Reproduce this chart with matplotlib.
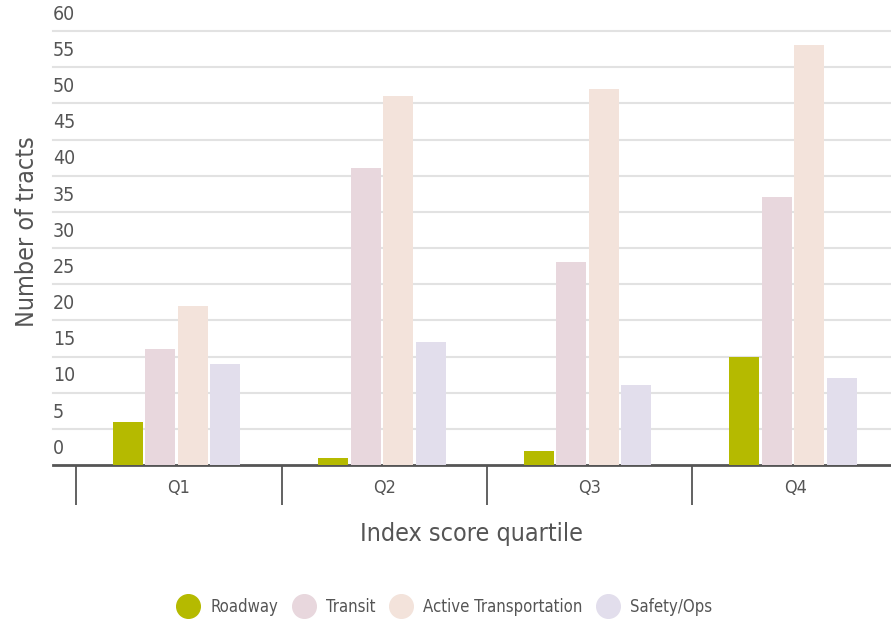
import matplotlib.pyplot as plt
from matplotlib.lines import Line2D
from matplotlib.transforms import blended_transform_factory
import numpy as np

# data
quartiles = ["Q1", "Q2", "Q3", "Q4"]
roadway = [6, 1, 2, 15]
transit = [16, 41, 28, 37]
active = [22, 51, 52, 58]
safety = [14, 17, 11, 12]
series_names = ["Roadway", "Transit", "Active Transportation", "Safety/Ops"]
colors = ["#b5ba00", "#e8d7dd", "#f3e3db", "#e2deec"]
yticks = list(range(0, 65, 5))

plt.rcParams['font.family'] = ['DejaVu Sans']
plt.rcParams['font.stretch'] = 'condensed'
txt = "#555555"

fig = plt.figure(figsize=(8.91, 6.21), dpi=100)
ax = fig.add_axes([53/891, 1 - 465/621, 838/891, 434/621])

x = np.arange(len(quartiles))
w = 0.146
step = 0.158
for i, (vals, c) in enumerate(zip([roadway, transit, active, safety], colors)):
    ax.bar(x + (i - 1.5) * step - 0.01, vals, width=w, color=c, zorder=3)

ax.set_xlim(-0.612, 3.466)
ax.set_ylim(0, 60)

# grid + y labels sitting above the lines
for v in yticks[1:]:
    ax.axhline(v, color="#e2e2e2", lw=1.5, zorder=1, clip_on=False)
trans = blended_transform_factory(ax.transAxes, ax.transData)
for v in yticks:
    ax.text(0.0, v + 1.0, str(v), transform=trans, ha="left", va="bottom",
            fontsize=14, color=txt, clip_on=False)
ax.set_yticks([])

for s in ["top", "right", "left"]:
    ax.spines[s].set_visible(False)
ax.spines["bottom"].set_color("#555555")
ax.spines["bottom"].set_linewidth(2)

ax.set_xticks(x)
ax.set_xticklabels(quartiles, fontsize=13, color=txt)
ax.tick_params(axis="x", which="major", length=0, pad=10)
ax.set_xticks(np.arange(-0.5, 3.0, 1.0), minor=True)
ax.tick_params(axis="x", which="minor", length=29, width=1.3, color="#555555")

ax.set_xlabel("Index score quartile", fontsize=18, color=txt, labelpad=9)
fig.text(27/891, 1 - 232/621, "Number of tracts", rotation=90, fontsize=18,
         color=txt, ha="center", va="center")

handles = [Line2D([], [], marker="o", ls="", markersize=17, color=c) for c in colors]
fig.legend(handles, series_names, loc="center", bbox_to_anchor=(442/891, 1 - 607/621),
           ncol=4, frameon=False, fontsize=12, labelcolor=txt,
           handletextpad=0.35, columnspacing=0.5)

fig.savefig("out.png", dpi=100)
